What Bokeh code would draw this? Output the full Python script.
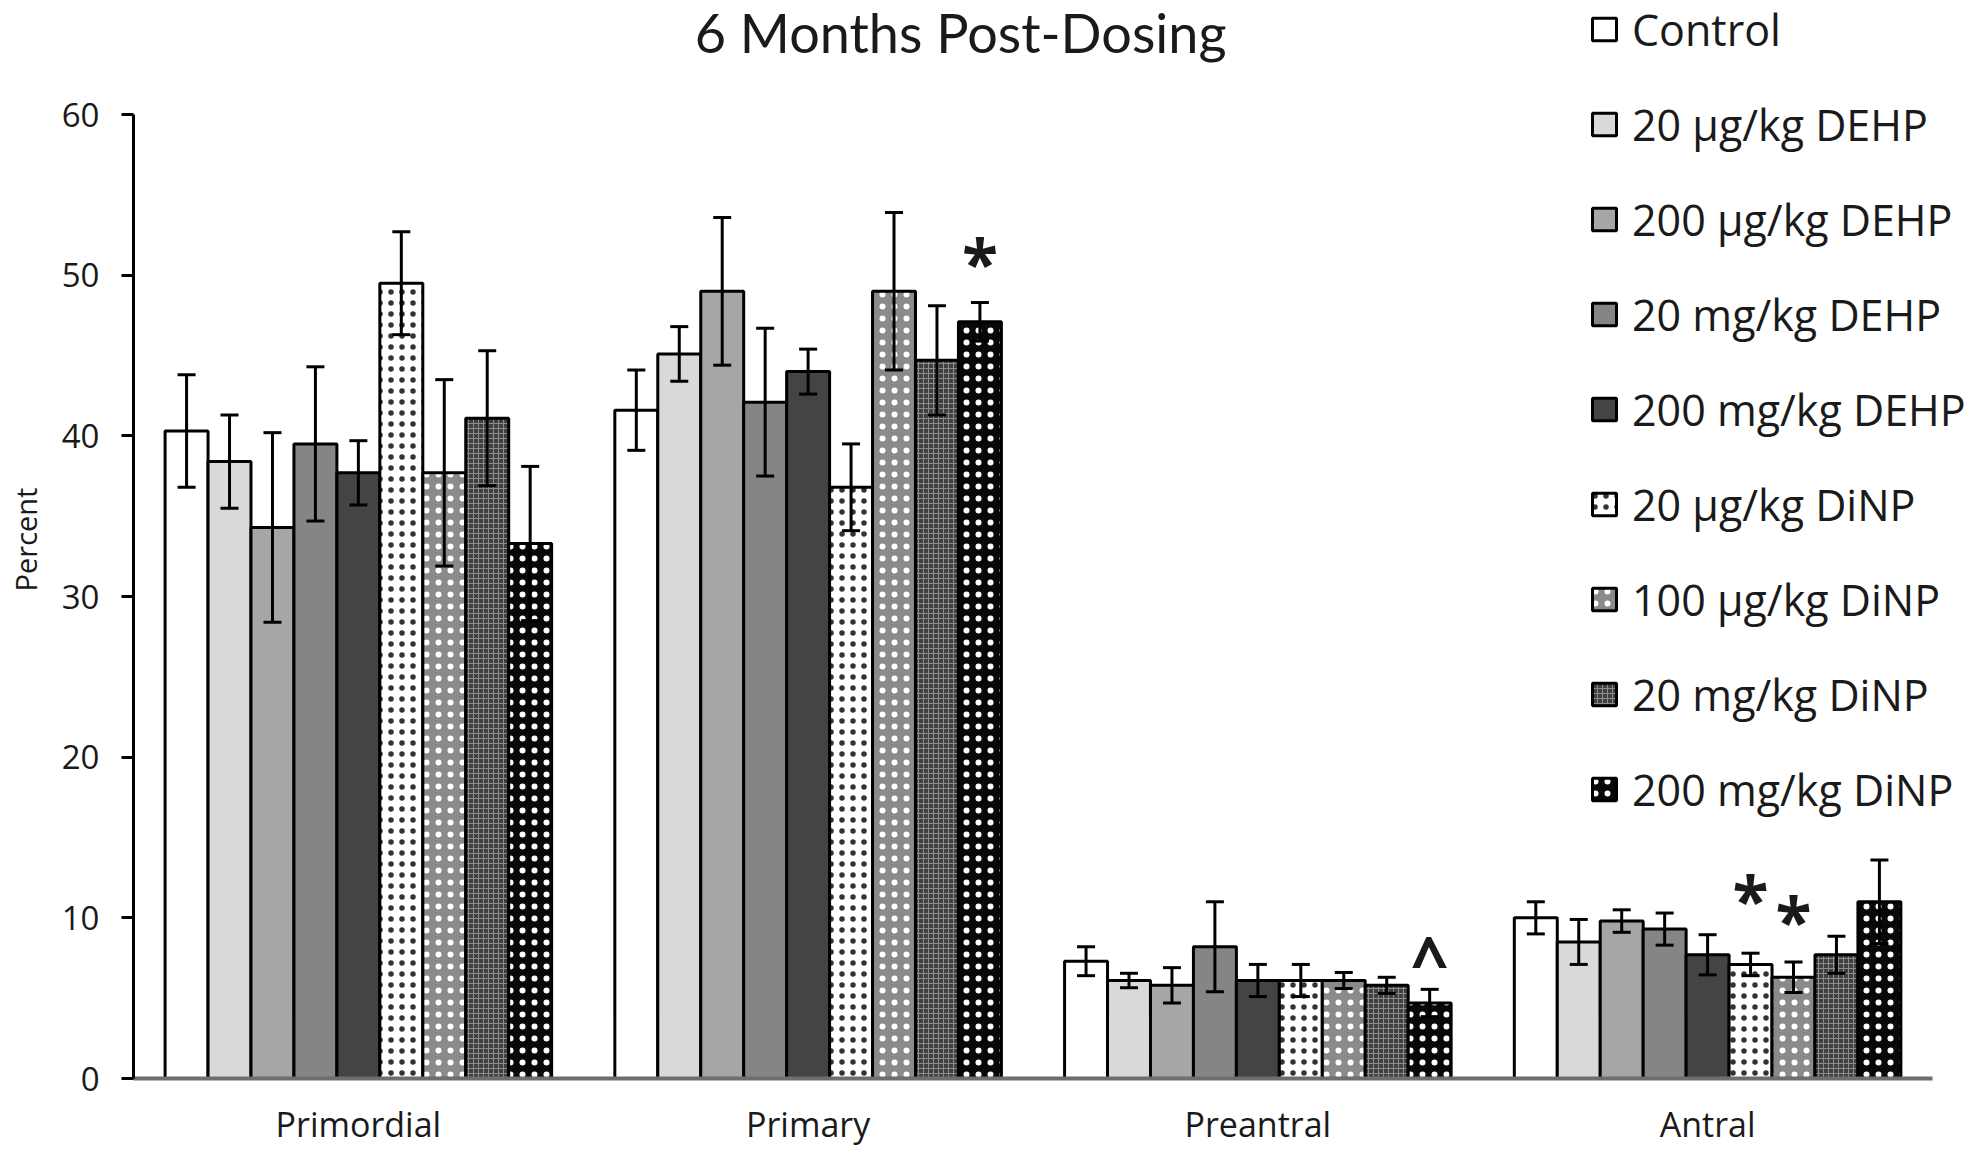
from bokeh.plotting import figure
from bokeh.models import (Range1d, FixedTicker, Whisker, ColumnDataSource, Legend,
                          LegendItem, Label, TeeHead)
from bokeh.core.properties import value
from bokeh.embed import file_html
from bokeh.resources import INLINE

# ---------------- data ----------------
groups = ["Primordial", "Primary", "Preantral", "Antral"]
series = ["Control", "20 \u00b5g/kg DEHP", "200 \u00b5g/kg DEHP", "20 mg/kg DEHP",
          "200 mg/kg DEHP", "20 \u00b5g/kg DiNP", "100 \u00b5g/kg DiNP",
          "20 mg/kg DiNP", "200 mg/kg DiNP"]

control      = [40.3, 41.6, 7.3, 10.0]
dehp_20ug    = [38.4, 45.1, 6.1, 8.5]
dehp_200ug   = [34.3, 49.0, 5.8, 9.8]
dehp_20mg    = [39.5, 42.1, 8.2, 9.3]
dehp_200mg   = [37.7, 44.0, 6.1, 7.7]
dinp_20ug    = [49.5, 36.8, 6.1, 7.1]
dinp_100ug   = [37.7, 49.0, 6.1, 6.3]
dinp_20mg    = [41.1, 44.7, 5.8, 7.7]
dinp_200mg   = [33.3, 47.1, 4.7, 11.0]

control_err    = [3.5, 2.5, 0.9, 1.0]
dehp_20ug_err  = [2.9, 1.7, 0.45, 1.4]
dehp_200ug_err = [5.9, 4.6, 1.1, 0.7]
dehp_20mg_err  = [4.8, 4.6, 2.8, 1.0]
dehp_200mg_err = [2.0, 1.4, 1.0, 1.25]
dinp_20ug_err  = [3.2, 2.7, 1.0, 0.7]
dinp_100ug_err = [5.8, 4.9, 0.5, 0.95]
dinp_20mg_err  = [4.2, 3.4, 0.5, 1.15]
dinp_200mg_err = [4.8, 1.2, 0.85, 2.6]

y_ticks = [0, 10, 20, 30, 40, 50, 60]

# significance marks: group index, series index, height, symbol
ann_group  = [1, 2, 3, 3]
ann_series = [8, 8, 5, 6]
ann_y      = [51.6, 8.2, 11.9, 10.6]
ann_text   = ["*", "^", "*", "*"]

values = [control, dehp_20ug, dehp_200ug, dehp_20mg, dehp_200mg,
          dinp_20ug, dinp_100ug, dinp_20mg, dinp_200mg]
errors = [control_err, dehp_20ug_err, dehp_200ug_err, dehp_20mg_err, dehp_200mg_err,
          dinp_20ug_err, dinp_100ug_err, dinp_20mg_err, dinp_200mg_err]

# ---------------- styles ----------------
styles = [
    dict(fill_color="white"),
    dict(fill_color="#d9d9d9"),
    dict(fill_color="#a6a6a6"),
    dict(fill_color="#858585"),
    dict(fill_color="#444444"),
    dict(fill_color="white", hatch_pattern=".", hatch_color="#333333", hatch_scale=11, hatch_weight=2),
    dict(fill_color="#8a8a8a", hatch_pattern=".", hatch_color="white", hatch_scale=12, hatch_weight=3),
    dict(fill_color="#404040", hatch_pattern="+", hatch_color="#8c8c8c", hatch_scale=5, hatch_weight=1),
    dict(fill_color="#080808", hatch_pattern=".", hatch_color="white", hatch_scale=12, hatch_weight=2.5),
]

FONT = "Open Sans"
TXT = "#1a1a1a"
W, H = 1976, 1150
bw = 0.0955

p = figure(width=W, height=H, output_backend="svg", toolbar_location=None,
           x_range=Range1d(-0.5, 3.589), y_range=Range1d(0, 67.1),
           min_border_left=133, min_border_right=4, min_border_top=0,
           min_border_bottom=72)
p.grid.visible = False
p.outline_line_color = None

renderers = []
n = len(series)
for i in range(n):
    xs = [g + (i - (n - 1) / 2) * bw for g in range(len(groups))]
    src = ColumnDataSource(dict(
        x=xs, top=values[i],
        upper=[v + e for v, e in zip(values[i], errors[i])],
        lower=[v - e for v, e in zip(values[i], errors[i])]))
    r = p.vbar(x="x", top="top", bottom=0, width=bw, source=src,
               line_color="black", line_width=3, **styles[i])
    renderers.append(r)
    wh = Whisker(base="x", upper="upper", lower="lower", source=src,
                 line_color="black", line_width=3, level="annotation",
                 upper_head=TeeHead(size=18, line_width=3, line_color="black"),
                 lower_head=TeeHead(size=18, line_width=3, line_color="black"))
    p.add_layout(wh)

# significance marks
ann_x = [g + (s - (n - 1) / 2) * bw for g, s in zip(ann_group, ann_series)]
asrc = ColumnDataSource(dict(x=ann_x, y=ann_y, t=ann_text))
p.text(x="x", y="y", text="t", source=asrc, text_font=value(FONT),
       text_font_size="66px", text_font_style="bold", text_color=TXT,
       text_align="center", text_baseline="middle", y_offset=12)

# axes
yax = p.yaxis[0]
yax.bounds = (0, 60)
yax.ticker = FixedTicker(ticks=y_ticks)
yax.axis_line_width = 3
yax.axis_line_color = "black"
yax.major_tick_line_width = 3
yax.major_tick_line_color = "black"
yax.major_tick_out = 12
yax.major_tick_in = 0
yax.minor_tick_line_color = None
yax.major_label_text_font = FONT
yax.major_label_text_font_size = "33px"
yax.major_label_text_color = TXT
yax.major_label_standoff = 22
yax.axis_label = "Percent"
yax.axis_label_text_font = FONT
yax.axis_label_text_font_size = "29px"
yax.axis_label_text_font_style = "normal"
yax.axis_label_text_color = TXT
yax.axis_label_standoff = 14

xax = p.xaxis[0]
xax.bounds = (-0.5, 3.5)
xax.ticker = FixedTicker(ticks=list(range(len(groups))))
xax.major_label_overrides = {i: g for i, g in enumerate(groups)}
xax.axis_line_width = 4
xax.axis_line_color = "#6e6e6e"
xax.major_tick_line_color = None
xax.major_tick_out = 0
xax.major_tick_in = 0
xax.minor_tick_line_color = None
xax.major_label_text_font = FONT
xax.major_label_text_font_size = "34px"
xax.major_label_text_color = TXT
xax.major_label_standoff = 22

# title
p.add_layout(Label(x=1.339, y=65.1, text="6 Months Post-Dosing", text_font="Lato",
                   text_font_size="54px", text_color=TXT, text_align="center",
                   text_baseline="middle"))

# legend
legend = Legend(items=[LegendItem(label=s, renderers=[r]) for s, r in zip(series, renderers)],
                location=(1456, 259), orientation="vertical",
                glyph_width=30, glyph_height=28, label_height=60, spacing=35,
                label_standoff=13, padding=0, margin=0,
                label_text_font=FONT, label_text_font_size="43px",
                label_text_color=TXT, border_line_color=None,
                background_fill_alpha=0)
p.add_layout(legend, "center")

open("out.html", "w").write(file_html(p, INLINE))
